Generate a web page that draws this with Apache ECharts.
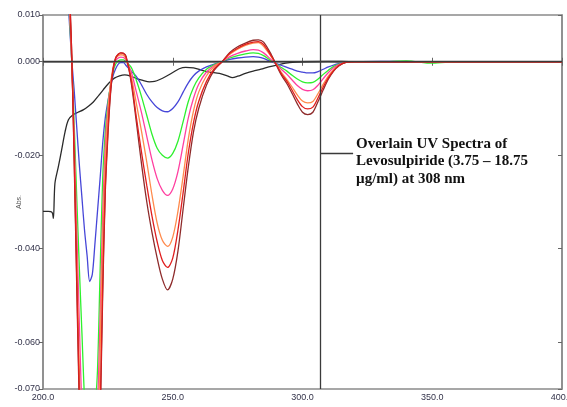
<!DOCTYPE html>
<html>
<head>
<meta charset="utf-8">
<script src="https://cdn.jsdelivr.net/npm/echarts@6/dist/echarts.min.js"></script>
<style>
  html, body { margin: 0; padding: 0; background: #ffffff; }
  #chart { width: 567px; height: 407px; }
</style>
</head>
<body>
<div id="chart"></div>
<script>
// wavelength grid (nm) for the coloured spectra
const wavelength = [209, 210, 211, 212, 213, 214, 215, 216, 217, 218, 219, 220, 221, 222, 223, 224, 225, 226, 227, 228, 229, 230, 231, 232,
  234, 236, 238, 240, 242, 244, 246, 248, 250, 252, 254, 256, 258, 260,
  263, 266, 269, 272, 275, 278, 281, 283, 285, 288,
  290, 292, 294, 296, 298, 300, 302, 304, 306, 308, 310, 312, 314, 317, 320,
  330, 340, 350, 360, 370, 380, 390, 400]

const blueAbs = [0.020, 0.010, 0.001, -0.006, -0.014, -0.022, -0.029, -0.036, -0.0415, -0.047, -0.0455, -0.039, -0.032, -0.025, -0.0175, -0.012, -0.0085, -0.0055, -0.003, -0.0015, -0.0005, -0.0002, -0.0002, -0.0008,
  -0.0020, -0.0032, -0.0050, -0.0070, -0.0086, -0.0098, -0.0105, -0.0107, -0.0100, -0.0086, -0.0065, -0.0045, -0.0030, -0.0020,
  -0.0011, -0.0005, 0.0000, 0.0005, 0.0008, 0.0010, 0.0011, 0.0010, 0.0007, 0.0000,
  -0.0004, -0.0008, -0.0012, -0.0016, -0.0020, -0.0022, -0.0024, -0.0024, -0.0021, -0.0016, -0.0011, -0.0007, -0.0004, -0.0001, 0.0000,
  0.0001, 0.0000, 0.0000, 0.0000, 0.0000, 0.0000, 0.0000, 0.0000]

const greenAbs = [0.025, 0.012, 0.001, -0.013, -0.029, -0.044, -0.058, -0.072, -0.080, -0.083, -0.081, -0.075, -0.066, -0.045, -0.025, -0.015, -0.0090, -0.0050, -0.0022, -0.0005, 0.0002, 0.0004, 0.0004, 0.0000,
  -0.0012, -0.0040, -0.0075, -0.0115, -0.0155, -0.0185, -0.0200, -0.0206, -0.0196, -0.0170, -0.0128, -0.0085, -0.0055, -0.0035,
  -0.0016, -0.0006, 0.0000, 0.0008, 0.0013, 0.0017, 0.0019, 0.0018, 0.0013, 0.0002,
  -0.0005, -0.0013, -0.0020, -0.0029, -0.0037, -0.0043, -0.0045, -0.0044, -0.0037, -0.0027, -0.0018, -0.0010, -0.0005, -0.0001, 0.0000,
  0.0000, 0.0002, -0.0003, 0.0000, 0.0000, 0.0000, 0.0000, 0.0000]

const pinkAbs = [0.028, 0.014, 0.001, -0.016, -0.036, -0.056, -0.075, -0.090, -0.100, -0.104, -0.102, -0.093, -0.075, -0.055, -0.033, -0.018, -0.0100, -0.0050, -0.0018, 0.0002, 0.0008, 0.0010, 0.0009, 0.0003,
  -0.0022, -0.0065, -0.0110, -0.0160, -0.0210, -0.0250, -0.0275, -0.0286, -0.0272, -0.0235, -0.0178, -0.0120, -0.0078, -0.0048,
  -0.0022, -0.0008, 0.0000, 0.0011, 0.0018, 0.0023, 0.0026, 0.0025, 0.0019, 0.0004,
  -0.0006, -0.0017, -0.0027, -0.0039, -0.0051, -0.0059, -0.0062, -0.0060, -0.0050, -0.0036, -0.0023, -0.0013, -0.0006, -0.0001, 0.0000,
  0.0000, 0.0000, 0.0000, 0.0000, 0.0000, 0.0000, 0.0000, 0.0000]

const orangeAbs = [0.030, 0.016, 0.002, -0.018, -0.042, -0.066, -0.088, -0.105, -0.117, -0.121, -0.119, -0.108, -0.088, -0.062, -0.038, -0.021, -0.011, -0.0050, -0.0012, 0.0007, 0.0013, 0.0015, 0.0014, 0.0006,
  -0.0032, -0.0090, -0.0150, -0.0215, -0.0285, -0.0345, -0.0382, -0.0395, -0.0375, -0.0320, -0.0245, -0.0165, -0.0105, -0.0065,
  -0.0030, -0.0010, 0.0000, 0.0016, 0.0027, 0.0035, 0.0040, 0.0041, 0.0033, 0.0010,
  -0.0006, -0.0024, -0.0038, -0.0054, -0.0071, -0.0084, -0.0088, -0.0085, -0.0068, -0.0048, -0.0030, -0.0017, -0.0008, -0.0001, 0.0000,
  0.0000, 0.0000, 0.0000, 0.0000, 0.0000, 0.0000, 0.0000, 0.0000]

const redAbs = [0.032, 0.018, 0.003, -0.020, -0.046, -0.072, -0.095, -0.113, -0.125, -0.130, -0.128, -0.117, -0.098, -0.076, -0.048, -0.027, -0.015, -0.0065, -0.0015, 0.0008, 0.0016, 0.0019, 0.0018, 0.0010,
  -0.0040, -0.0120, -0.0195, -0.0265, -0.0330, -0.0385, -0.0425, -0.0440, -0.0420, -0.0360, -0.0280, -0.0195, -0.0130, -0.0085,
  -0.0042, -0.0015, 0.0000, 0.0018, 0.0029, 0.0037, 0.0042, 0.0043, 0.0037, 0.0012,
  -0.0007, -0.0027, -0.0042, -0.0061, -0.0081, -0.0096, -0.0101, -0.0097, -0.0077, -0.0054, -0.0034, -0.0019, -0.0008, -0.0001, 0.0000,
  0.0000, 0.0000, 0.0000, 0.0000, 0.0000, 0.0000, 0.0000, 0.0000]

const brownAbs = [0.032, 0.018, 0.003, -0.021, -0.048, -0.074, -0.098, -0.118, -0.130, -0.135, -0.132, -0.120, -0.100, -0.078, -0.050, -0.028, -0.016, -0.0070, -0.0018, 0.0008, 0.0016, 0.0019, 0.0018, 0.0012,
  -0.0045, -0.0130, -0.0220, -0.0300, -0.0365, -0.0420, -0.0465, -0.0488, -0.0465, -0.0405, -0.0315, -0.0225, -0.0150, -0.0100,
  -0.0050, -0.0018, 0.0000, 0.0020, 0.0032, 0.0040, 0.0046, 0.0047, 0.0042, 0.0015,
  -0.0008, -0.0030, -0.0047, -0.0068, -0.0090, -0.0108, -0.0113, -0.0108, -0.0085, -0.0060, -0.0037, -0.0020, -0.0009, -0.0001, 0.0000,
  0.0000, 0.0000, 0.0000, 0.0000, 0.0000, 0.0000, 0.0000, 0.0000]

// black trace has its own grid
const blackWavelength = [200, 202, 203.5, 204, 204.6, 205.9, 207.2, 208.5, 209.8, 211.7, 213.5, 215.5, 217.5, 219.4, 221.5, 223.2, 225.5, 227.5, 229.5, 231.5, 233.5,
  236, 238.5, 241, 243, 245, 247.5, 250, 252.5, 255, 258, 261, 264, 268, 271, 273, 275, 278, 281, 284, 287, 291, 295, 300, 310, 320, 340, 360, 380, 400]
const blackAbs = [-0.0320, -0.0320, -0.0322, -0.0335, -0.0260, -0.0225, -0.0188, -0.0150, -0.0124, -0.0113, -0.0108, -0.0103, -0.0095, -0.0086, -0.0072, -0.0060, -0.0045, -0.0035, -0.0030, -0.0028, -0.0030,
  -0.0036, -0.0040, -0.0043, -0.0042, -0.0038, -0.0031, -0.0023, -0.0015, -0.0012, -0.0013, -0.0018, -0.0022, -0.0025, -0.0030, -0.0034, -0.0031, -0.0025, -0.0020, -0.0016, -0.0011, -0.0006, -0.0002, 0.0000, 0.0001, 0.0000, 0.0000, 0.0000, 0.0000, 0.0000]

const xTicks = [200, 250, 300, 350, 400]
const yTicks = [0.01, 0, -0.02, -0.04, -0.06, -0.07]
const cursorWavelength = 307

const myChart = echarts.init(document.getElementById('chart'))

const pairs = (xs, ys) => xs.map((x, i) => [x, ys[i]])

const makeLine = (name, xs, ys, color) => {
  return {
    name: name,
    type: 'line',
    data: pairs(xs, ys),
    showSymbol: false,
    smooth: 0.3,
    lineStyle: { color: color, width: 1.3 },
    itemStyle: { color: color },
    silent: true,
    z: 3
  }
}

const labelStyle = {
  color: '#33334a',
  fontSize: 9,
  fontFamily: 'Liberation Sans, Arial, sans-serif'
}

const option = {
  animation: false,
  grid: {
    left: 43,
    right: 5,
    top: 15,
    bottom: 18,
    outerBoundsMode: 'none',
    containLabel: false,
    show: true,
    borderColor: '#8a8a8a',
    borderWidth: 1.5
  },
  xAxis: [
    {
      type: 'value',
      min: 200,
      max: 400,
      interval: 50,
      name: 'nm',
      nameLocation: 'middle',
      nameGap: 17,
      nameMoveOverlap: false,
      nameTextStyle: { color: '#555', fontSize: 7 },
      axisLine: { lineStyle: { color: '#8a8a8a', width: 1.5 } },
      axisTick: { inside: true, length: 4, lineStyle: { color: '#666' } },
      axisLabel: Object.assign({ margin: 4, formatter: (v) => v.toFixed(1) }, labelStyle),
      splitLine: { show: false }
    },
    {
      type: 'value',
      position: 'top',
      min: 200,
      max: 400,
      interval: 50,
      axisLine: { lineStyle: { color: '#8a8a8a', width: 1.5 } },
      axisTick: { inside: true, length: 4, lineStyle: { color: '#666' } },
      axisLabel: { show: false },
      splitLine: { show: false }
    }
  ],
  yAxis: [
    {
      type: 'value',
      min: -0.07,
      max: 0.01,
      name: 'Abs.',
      nameLocation: 'middle',
      nameRotate: 90,
      nameGap: 20,
      nameMoveOverlap: false,
      nameTextStyle: { color: '#555', fontSize: 7 },
      axisLine: { lineStyle: { color: '#8a8a8a', width: 1.5 } },
      axisTick: { length: 4, customValues: yTicks, lineStyle: { color: '#666' } },
      axisLabel: Object.assign({ margin: 3, customValues: yTicks, formatter: (v) => v.toFixed(3) }, labelStyle),
      splitLine: { show: false }
    },
    {
      type: 'value',
      position: 'right',
      min: -0.07,
      max: 0.01,
      axisLine: { lineStyle: { color: '#8a8a8a', width: 1.5 } },
      axisTick: { inside: true, length: 4, customValues: yTicks, lineStyle: { color: '#666' } },
      axisLabel: { show: false },
      splitLine: { show: false }
    }
  ],
  graphic: [
    {
      type: 'text',
      left: 356,
      top: 135,
      style: {
        text: 'Overlain UV Spectra of\nLevosulpiride (3.75 \u2013 18.75\n\u00b5g/ml) at 308 nm',
        fill: '#111',
        font: 'bold 15px "Liberation Serif", "Times New Roman", serif',
        lineHeight: 17.7
      }
    }
  ],
  series: [
    makeLine('Black', blackWavelength, blackAbs, '#2a2a2a'),
    makeLine('Blue', wavelength, blueAbs, '#4646d8'),
    makeLine('Green', wavelength, greenAbs, '#2ef02e'),
    makeLine('Pink', wavelength, pinkAbs, '#ff3fa0'),
    makeLine('Orange', wavelength, orangeAbs, '#ff8a4c'),
    makeLine('Brown', wavelength, brownAbs, '#8e2b2b'),
    Object.assign(makeLine('Red', wavelength, redAbs, '#e01e1e'), {
      markLine: {
        silent: true,
        symbol: 'none',
        label: { show: false },
        lineStyle: { color: '#3a3a3a', type: 'solid', width: 1.3 },
        data: [
          [{ coord: [200, 0] }, { coord: [400, 0] }],
          [{ coord: [cursorWavelength, 0.01] }, { coord: [cursorWavelength, -0.07] }],
          [{ coord: [cursorWavelength, -0.0195] }, { coord: [319.5, -0.0195] }]
        ]
      }
    })
  ]
}

myChart.setOption(option)
</script>
</body>
</html>
